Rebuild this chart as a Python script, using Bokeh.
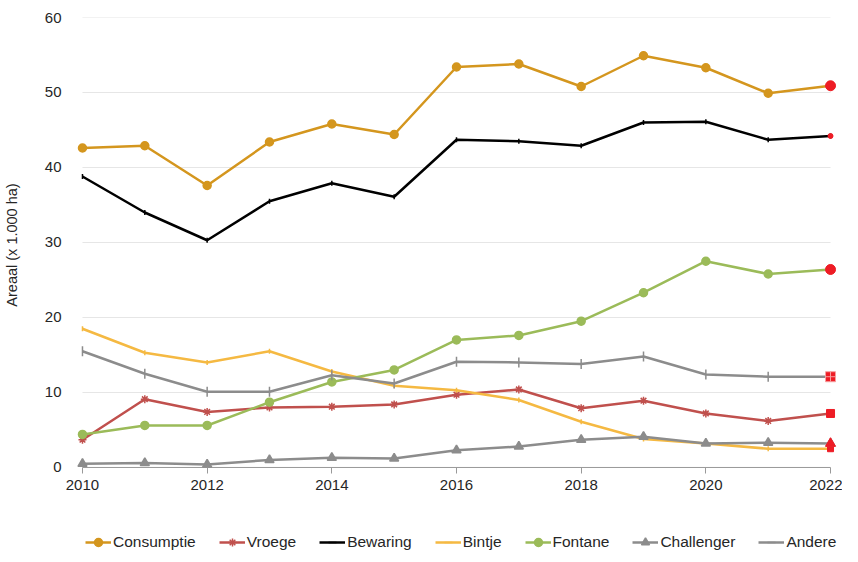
from bokeh.plotting import figure
from bokeh.models import Range1d, Legend, LegendItem, FixedTicker
from bokeh.layouts import column
from bokeh.embed import file_html
from bokeh.resources import INLINE
import math

years = list(range(2010, 2023))
consumptie = [42.6, 42.9, 37.6, 43.4, 45.8, 44.4, 53.4, 53.8, 50.8, 54.9, 53.3, 49.9, 50.9]
vroege = [3.7, 9.1, 7.4, 8.0, 8.1, 8.4, 9.7, 10.4, 7.9, 8.9, 7.2, 6.2, 7.2]
bewaring = [38.8, 34.0, 30.3, 35.5, 37.9, 36.1, 43.7, 43.5, 42.9, 46.0, 46.1, 43.7, 44.2]
bintje = [18.5, 15.3, 14.0, 15.5, 12.8, 10.9, 10.3, 9.0, 6.1, 3.8, 3.2, 2.5, 2.5]
fontane = [4.4, 5.6, 5.6, 8.7, 11.4, 13.0, 17.0, 17.6, 19.5, 23.3, 27.5, 25.8, 26.4]
challenger = [0.5, 0.6, 0.4, 1.0, 1.3, 1.2, 2.3, 2.8, 3.7, 4.1, 3.2, 3.3, 3.2]
andere = [15.5, 12.5, 10.1, 10.1, 12.3, 11.2, 14.1, 14.0, 13.8, 14.8, 12.4, 12.1, 12.1]

names = ["Consumptie", "Vroege", "Bewaring", "Bintje", "Fontane", "Challenger", "Andere"]
x_ticks = [2010, 2012, 2014, 2016, 2018, 2020, 2022]
y_ticks = [0, 10, 20, 30, 40, 50, 60]
y_label = "Areaal (x 1.000 ha)"

FONT = "Liberation Sans"
RED = "#EE1C25"

p = figure(width=842, height=500, output_backend="svg", toolbar_location=None,
           x_range=Range1d(2009.84, 2022.16), y_range=Range1d(-0.67, 60),
           min_border_left=64, min_border_right=2, min_border_top=17, min_border_bottom=28)
p.outline_line_color = None
p.xgrid.visible = False
p.ygrid.visible = False

# grid lines from tick values
for t in y_ticks:
    p.segment(x0=years[0], x1=years[-1], y0=t, y1=t,
              line_color="#999999" if t == 0 else "#E6E6E6", line_width=1)

p.xaxis.ticker = FixedTicker(ticks=x_ticks)
p.xaxis.axis_line_color = None
p.xaxis.major_tick_line_color = "#999999"
p.xaxis.major_tick_in = 5
p.xaxis.major_tick_out = 1
p.xaxis.minor_tick_line_color = None
p.xaxis.major_label_standoff = 6
p.xaxis.major_label_text_font = FONT
p.xaxis.major_label_text_font_size = "15px"
p.xaxis.major_label_text_color = "#262626"

p.yaxis.ticker = FixedTicker(ticks=y_ticks)
p.yaxis.axis_line_color = None
p.yaxis.major_tick_line_color = None
p.yaxis.minor_tick_line_color = None
p.yaxis.major_label_standoff = 5
p.yaxis.major_label_text_font = FONT
p.yaxis.major_label_text_font_size = "15px"
p.yaxis.major_label_text_color = "#262626"
p.yaxis.axis_label = y_label
p.yaxis.axis_label_text_font = FONT
p.yaxis.axis_label_text_font_style = "normal"
p.yaxis.axis_label_text_font_size = "14.5px"
p.yaxis.axis_label_text_color = "#262626"
p.yaxis.axis_label_standoff = 22

series = [
    (consumptie, "#D4961E", "circle", 8, 0, "circle", 10),
    (vroege, "#C0504D", "asterisk", 8, 0, "square", 8),
    (bewaring, "#000000", "dash", 5, math.pi / 2, "circle", 5),
    (bintje, "#F5B942", "dash", 5, math.pi / 2, "square", 6),
    (fontane, "#9BBB59", "circle", 8, 0, "circle", 10),
    (challenger, "#8C8C8C", "triangle", 9, 0, "triangle", 10),
    (andere, "#8C8C8C", "dash", 10, math.pi / 2, "square_cross", 10),
]

# separate strip for the legend below the chart (its ranges keep the series out of view)
lg = figure(width=842, height=52, output_backend="svg", toolbar_location=None,
            x_range=Range1d(0, 1), y_range=Range1d(0, 1),
            x_axis_location=None, y_axis_location=None,
            min_border_left=0, min_border_right=0, min_border_top=0, min_border_bottom=0)
lg.outline_line_color = None
lg.xgrid.visible = False
lg.ygrid.visible = False

items = []
for name, (vals, color, marker, size, angle, end_marker, end_size) in zip(names, series):
    p.line(years, vals, line_color=color, line_width=2.5)
    p.scatter(years, vals, marker=marker, size=size, angle=angle,
              fill_color=color, line_color=color, line_width=1.5)
    p.scatter([years[-1]], [vals[-1]], marker=end_marker, size=end_size,
              fill_color=RED, line_color="#F7A0A0" if end_marker == "square_cross" else RED,
              line_width=1)
    ll = lg.line(years, vals, line_color=color, line_width=2.5)
    ls = lg.scatter(years, vals, marker=marker, size=size, angle=angle,
                    fill_color=color, line_color=color, line_width=1.5)
    items.append(LegendItem(label=name, renderers=[ll, ls]))

legend = Legend(items=items, orientation="horizontal", location=(13, 0),
                glyph_width=26, glyph_height=20, label_standoff=2, spacing=23,
                padding=0, margin=0, border_line_color=None, background_fill_alpha=0,
                label_text_font=FONT, label_text_font_size="15.5px",
                label_text_color="#262626")
lg.add_layout(legend, "center")

open("out.html", "w").write(file_html(column(p, lg), INLINE))
